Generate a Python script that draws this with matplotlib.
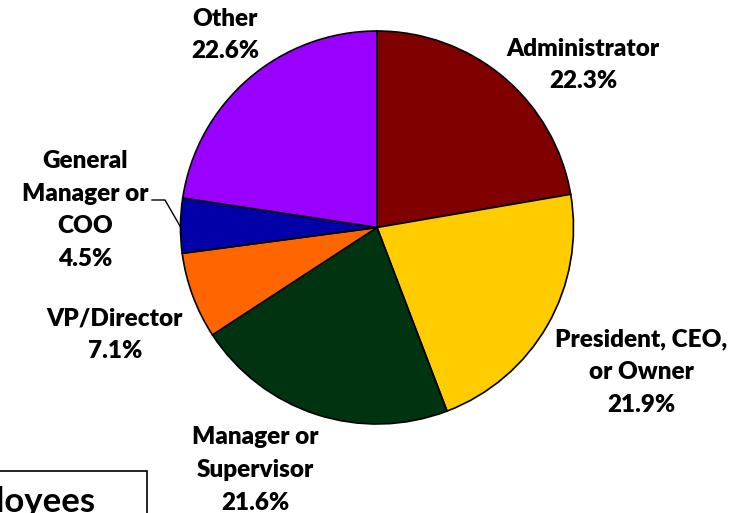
import matplotlib
matplotlib.use('Agg')
import matplotlib.pyplot as plt
from matplotlib.patches import Rectangle

#-------- data --------#
roles = ['Administrator', 'President, CEO,\nor Owner', 'Manager or\nSupervisor',
         'VP/Director', 'General\nManager or\nCOO', 'Other']
shares = [22.3, 21.9, 21.6, 7.1, 4.5, 22.6]
colors = ['#800000', '#FFCC00', '#00330F', '#FF6600', '#0000A8', '#9900FF']

# label block centres in pixels (x from left, y from top)
label_pos = [(583, 65), (641, 372), (255, 470), (115, 335), (85, 210), (225, 35)]

W, H = 744, 513
plt.rcParams['font.family'] = ['Lato', 'DejaVu Sans']

fig = plt.figure(figsize=(W / 100, H / 100), dpi=100)
ax = fig.add_axes([0, 0, 1, 1])

def py(y):
    return H - y  # pixel row -> data y

ax.pie(shares, colors=colors, startangle=90, counterclock=False,
       center=(377, py(227.5)), radius=196.5,
       wedgeprops=dict(edgecolor='black', linewidth=1.2))
ax.set_xlim(0, W)
ax.set_ylim(0, H)
ax.set_aspect('auto')
ax.axis('off')

for name, val, (x, y) in zip(roles, shares, label_pos):
    ax.text(x, py(y), f'{name}\n{val:.1f}%', ha='center', va='center',
            fontsize=17.5, fontweight='heavy', linespacing=1.6, color='black')

# leader line for the small slice
ax.plot([152, 165, 180], [py(200), py(200), py(226)], color='black', lw=1.0)

# boxed caption at the bottom left
ax.add_patch(Rectangle((-20, py(540)), 167, 69, fill=False, edgecolor='black',
                       lw=1.2, clip_on=False))
ax.text(95, py(512), 'Employees', ha='right', va='baseline', fontsize=25,
        fontweight='bold', color='black')

fig.savefig('out.png', dpi=100)
